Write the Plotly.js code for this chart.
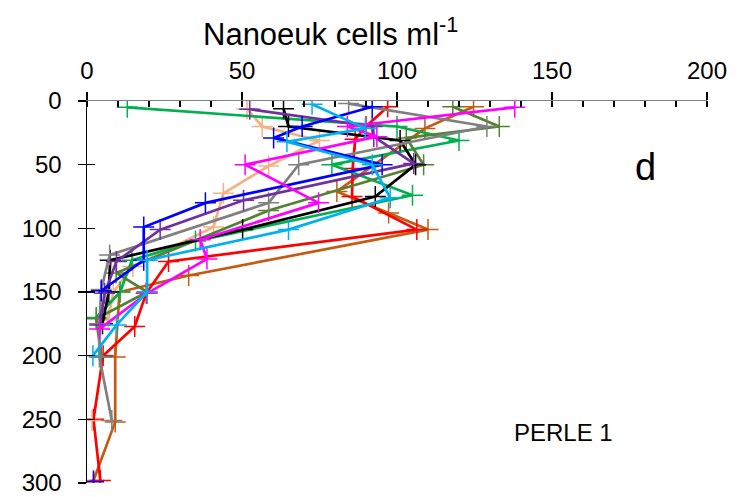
<!DOCTYPE html>
<html><head><meta charset="utf-8">
<script src="https://cdn.plot.ly/plotly-3.0.1.min.js"></script>
<style>html,body{margin:0;padding:0;background:#fff}#chart{width:740px;height:497px}</style>
</head><body><div id="chart"></div>
<script>
// Nanoeukaryote cells per ml vs depth (m), PERLE 1, panel d
const greenDepth = [5, 20, 31, 50, 74, 110, 125, 150, 170];
const greenVal   = [13, 100, 120, 79, 105, 35, 14.5, 10.7, 3];
const oliveDepth = [4.5, 20, 29, 50, 86, 135, 150, 171, 201];
const oliveVal   = [118, 133, 103, 108.6, 58.6, 9.4, 19.4, 3, 4.6];
const redDepth   = [4.5, 20, 30, 53, 75, 101, 126, 151, 177, 200, 250, 298];
const redVal     = [97, 90, 86.5, 85.7, 85.5, 106.4, 26.3, 19.1, 15.4, 5.2, 2.1, 4.3];
const brownDepth = [4.5, 21.5, 71, 88, 101, 137, 150, 201, 252, 298];
const brownVal   = [124.7, 109, 80.6, 97.3, 110, 32.8, 10.5, 9.1, 9.1, 2.1];
const blackDepth = [6, 20, 31, 50, 75, 101, 125, 150, 175];
const blackVal   = [63.4, 65, 101, 106, 93, 50.2, 7.5, 7, 5];
const tanDepth   = [6, 20, 31, 51, 72.5, 99, 130, 150, 172, null, 251];
const tanVal     = [51.6, 56.5, 75, 58.6, 44, 40.8, 14.8, 8.5, 6.8, null, 1.6];
const blueDepth  = [4.5, 20, 29, 50, 80, 99, 125, 149, null, 299];
const blueVal    = [92, 69.4, 60.2, 95.2, 38.2, 18.3, 18.3, 4.6, null, 2.1];
const purpleDepth= [6.5, 20, 28, 49, 78, 101, 126, 151, 176];
const purpleVal  = [52.5, 92, 92.5, 105.4, 50.5, 23.6, 9.5, 5.7, 4.1];
const grayDepth  = [2, 20, 50, 80, 121, 148, 175, 201, 251];
const grayVal    = [84.4, 129, 68.3, 58.6, 7.3, 4.6, 4, 4, 8];
const magentaDepth = [5, 20, 28, 50, 80, 109, 124, 151, 179];
const magentaVal   = [138, 84, 93.5, 51, 74.7, 36.5, 38.7, 19.4, 4.1];
const cyanDepth  = [2.6, 21.5, 32, 50, 76, 101, 125, 150, 176, 200];
const cyanVal    = [72.6, 89.8, 64.5, 92, 97.8, 65, 19.4, 19.4, 9.5, 1.9];

const xTicks = [0, 50, 100, 150, 200];
const yTicks = [0, 50, 100, 150, 200, 250, 300];

const series = [
  [brownVal, brownDepth, '#C55A11'],
  [redVal, redDepth, '#FF0000'],
  [tanVal, tanDepth, '#F4B183'],
  [greenVal, greenDepth, '#00B050'],
  [oliveVal, oliveDepth, '#548235'],
  [blackVal, blackDepth, '#000000'],
  [grayVal, grayDepth, '#808080'],
  [purpleVal, purpleDepth, '#7030A0'],
  [blueVal, blueDepth, '#0000FF'],
  [magentaVal, magentaDepth, '#FF00FF'],
  [cyanVal, cyanDepth, '#00B0F0']
];

const traces = series.map(([x, y, c]) => ({
  x: x, y: y, type: 'scatter', mode: 'lines+markers',
  line: {color: c, width: 2.7},
  marker: {symbol: 'cross-thin', size: 15, color: c, line: {color: c, width: 1.5}},
  connectgaps: false, showlegend: false, hoverinfo: 'skip'
}));
// invisible trace to attach the outside-tick overlay axis
traces.push({x: [null], y: [null], yaxis: 'y2', type: 'scatter', showlegend: false});

const font = {family: 'Arial, "Liberation Sans", sans-serif', color: '#000'};

const layout = {
  width: 740, height: 497,
  margin: {l: 87, r: 33, t: 101, b: 14},
  paper_bgcolor: '#fff', plot_bgcolor: '#fff',
  font: Object.assign({size: 24}, font),
  xaxis: {
    side: 'top', range: [0, 200], tickvals: xTicks, ticktext: xTicks.map(String),
    showgrid: false, zeroline: false, showline: true, linecolor: '#808080', linewidth: 1.5,
    ticks: 'outside', ticklen: 8, tickwidth: 1.5, tickcolor: '#000', ticklabelstandoff: 3,
    minor: {dtick: 10, ticks: 'inside', ticklen: 6, tickwidth: 1.2, tickcolor: '#000'},
    tickfont: Object.assign({size: 24}, font), fixedrange: true
  },
  yaxis: {
    range: [300, 0], tickvals: yTicks, ticktext: yTicks.map(String),
    showgrid: false, zeroline: false, showline: true, linecolor: '#000', linewidth: 1.5,
    ticks: 'inside', ticklen: 8, tickwidth: 1.5, tickcolor: '#000', ticklabelstandoff: 19,
    tickfont: Object.assign({size: 24}, font), fixedrange: true
  },
  yaxis2: {
    overlaying: 'y', range: [300, 0], tickvals: yTicks, showticklabels: false,
    showgrid: false, zeroline: false, showline: false,
    ticks: 'outside', ticklen: 8, tickwidth: 1.5, tickcolor: '#000', fixedrange: true
  },
  annotations: [
    {text: 'Nanoeuk cells ml<sup>-1</sup>', xref: 'paper', yref: 'paper', x: 0.392, y: 1.18,
     xanchor: 'center', yanchor: 'middle', showarrow: false, font: Object.assign({size: 31}, font)},
    {text: 'd', xref: 'x', yref: 'y', x: 180, y: 52, xanchor: 'center', yanchor: 'middle',
     showarrow: false, font: Object.assign({size: 38}, font)},
    {text: 'PERLE 1', xref: 'x', yref: 'y', x: 153.6, y: 260, xanchor: 'center', yanchor: 'middle',
     showarrow: false, font: Object.assign({size: 24}, font)}
  ]
};

Plotly.newPlot('chart', traces, layout, {displayModeBar: false, staticPlot: true});
</script></body></html>
